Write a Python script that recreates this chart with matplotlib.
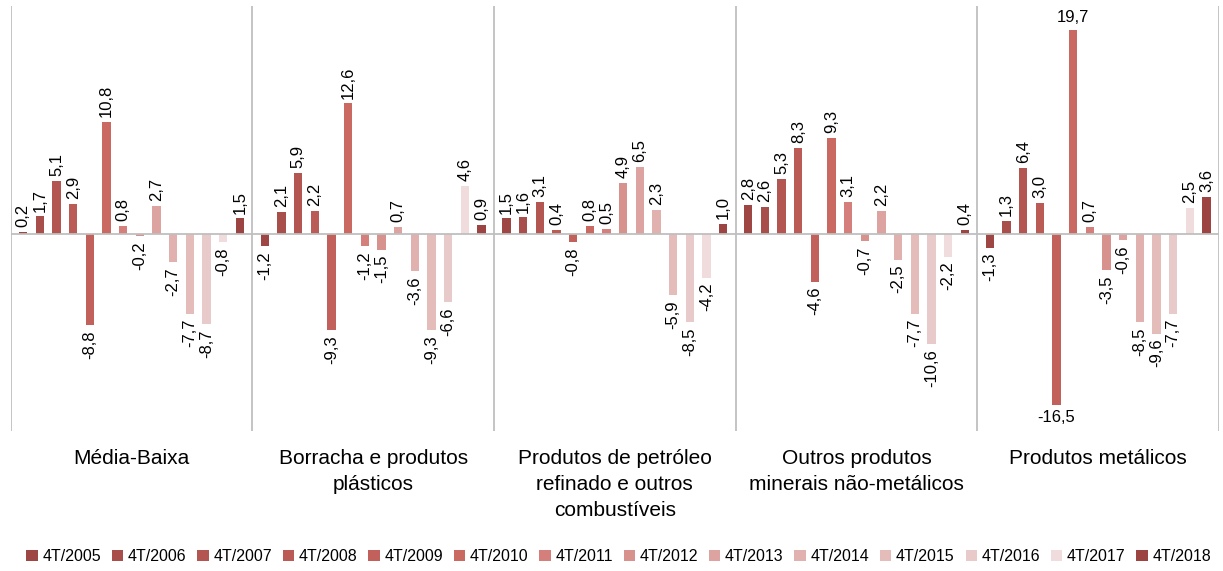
import matplotlib
matplotlib.use('Agg')
import matplotlib.pyplot as plt
import numpy as np

plt.rcParams['font.family'] = ['Liberation Sans', 'DejaVu Sans']

categories = ['Média-Baixa',
              'Borracha e produtos\nplásticos',
              'Produtos de petróleo\nrefinado e outros\ncombustíveis',
              'Outros produtos\nminerais não-metálicos',
              'Produtos metálicos']

series = ['4T/2005', '4T/2006', '4T/2007', '4T/2008', '4T/2009', '4T/2010', '4T/2011',
          '4T/2012', '4T/2013', '4T/2014', '4T/2015', '4T/2016', '4T/2017', '4T/2018']

# one list per category, values in series order
media_baixa = [0.2, 1.7, 5.1, 2.9, -8.8, 10.8, 0.8, -0.2, 2.7, -2.7, -7.7, -8.7, -0.8, 1.5]
borracha = [-1.2, 2.1, 5.9, 2.2, -9.3, 12.6, -1.2, -1.5, 0.7, -3.6, -9.3, -6.6, 4.6, 0.9]
petroleo = [1.5, 1.6, 3.1, 0.4, -0.8, 0.8, 0.5, 4.9, 6.5, 2.3, -5.9, -8.5, -4.2, 1.0]
minerais = [2.8, 2.6, 5.3, 8.3, -4.6, 9.3, 3.1, -0.7, 2.2, -2.5, -7.7, -10.6, -2.2, 0.4]
metalicos = [-1.3, 1.3, 6.4, 3.0, -16.5, 19.7, 0.7, -3.5, -0.6, -8.5, -9.6, -7.7, 2.5, 3.6]

colors = ['#9E4644', '#A94F4B', '#B35651', '#BB5B55', '#C2615B', '#CA6862', '#D47F7B',
          '#D8928E', '#DCA3A0', '#E0B1AF', '#E4BDBB', '#E9CACA', '#F0DCDC', '#9C4442']

data = np.array([media_baixa, borracha, petroleo, minerais, metalicos])

fig = plt.figure(figsize=(12.23, 5.71), dpi=100)
ax = fig.add_axes([0.00875, 0.2452, 0.988, 0.7443])

n = len(series)
slot = 0.0689
width = 0.0345
x = np.arange(len(categories))

for j in range(n):
    xs = x + (j - (n - 1) / 2) * slot
    vals = data[:, j]
    ax.bar(xs, vals, width=width, color=colors[j], label=series[j], zorder=2)
    for xi, v in zip(xs, vals):
        txt = f'{v:.1f}'.replace('.', ',')
        rot = 0 if abs(v) > 15 else 90
        if v >= 0:
            ax.annotate(txt, (xi, v), xytext=(0, 3.5), textcoords='offset points',
                        ha='center', va='bottom', rotation=rot, fontsize=12)
        else:
            ax.annotate(txt, (xi, v), xytext=(0, -3.5), textcoords='offset points',
                        ha='center', va='top', rotation=rot, fontsize=12)

ax.axhline(0, color='#BFBFBF', lw=1.3, zorder=3)
for b in np.arange(len(categories) + 1) - 0.5:
    ax.axvline(b, color='#BFBFBF', lw=1.3, zorder=1)

for i, c in enumerate(categories):
    ax.annotate(c, (i, 0), xycoords=('data', 'axes fraction'), xytext=(0, -13),
                textcoords='offset points', ha='center', va='top', fontsize=15,
                linespacing=1.45)

ax.set_xlim(-0.5, len(categories) - 0.5)
ax.set_ylim(-19, 22)
ax.axis('off')

fig.legend(loc='center', bbox_to_anchor=(0.506, 0.025), ncol=n, frameon=False,
           fontsize=11.5, handlelength=0.7, handleheight=0.7, handletextpad=0.3,
           columnspacing=0.68)

fig.savefig('out.png', dpi=100)
